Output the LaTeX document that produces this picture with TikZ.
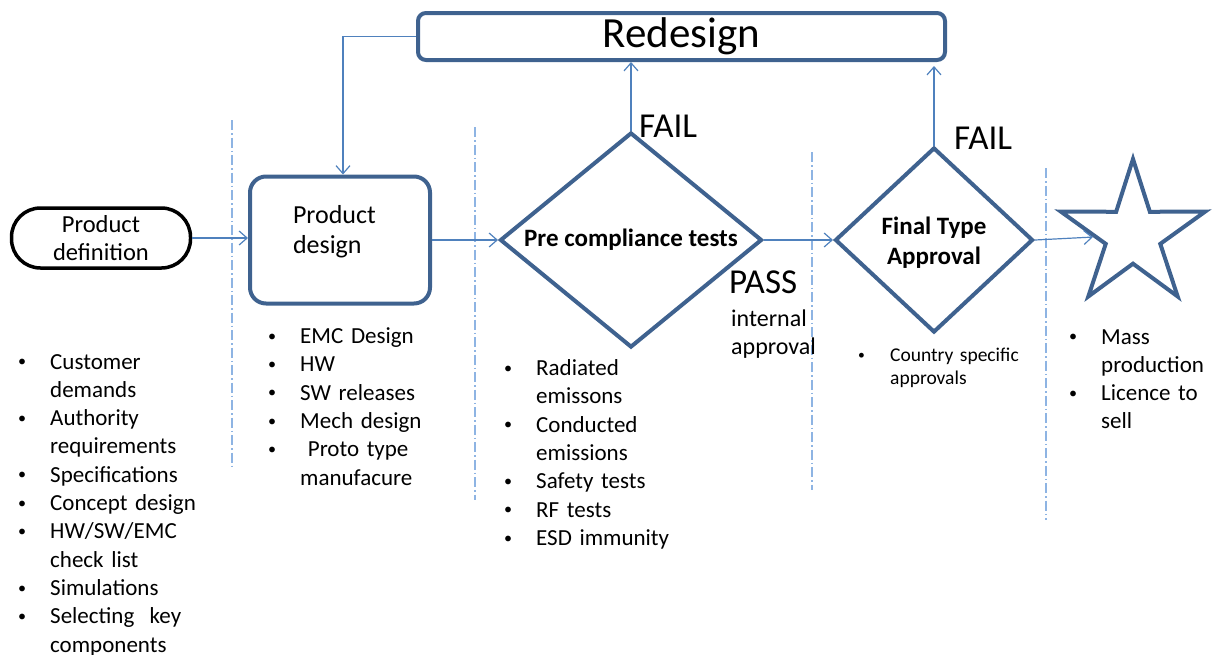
\documentclass[tikz,border=0pt]{standalone}
\usepackage{fontspec}
\setmainfont{Carlito}
\usetikzlibrary{shapes,arrows.meta,positioning}

\definecolor{boxblue}{HTML}{3F628F}
\definecolor{linkblue}{HTML}{4F81BD}
\definecolor{sepblue}{HTML}{8EB4E3}

% bullet item with hanging indent
\newcommand{\blt}[1]{\par\hangindent=32pt\hangafter=1\noindent\makebox[32pt][l]{\raisebox{0.1em}{\scalebox{0.7}{\textbullet}}}\strut#1}

\begin{document}
\begin{tikzpicture}[x=1pt, y=-1pt,
        >={Straight Barb[length=8pt,width=14pt]},
        term/.style={draw=black, line width=3.5pt, rounded corners=29pt, minimum width=179pt, minimum height=60pt, align=center, font=\fontsize{24.5}{28}\selectfont},
        box/.style={draw=boxblue, line width=4pt, rounded corners=16pt, minimum width=180pt, minimum height=127pt, align=left, font=\fontsize{26}{30}\selectfont},
        decide/.style={draw=boxblue, line width=4pt, diamond, inner sep=0pt, align=center, font=\bfseries\fontsize{25}{30}\selectfont},
        tag/.style={inner sep=0pt, anchor=west, font=\fontsize{35}{36}\selectfont},
        notes/.style={inner sep=0pt, anchor=north west, font=\fontsize{23}{28.3}\selectfont},
        link/.style={->, draw=linkblue, line width=1.2pt},
        sep/.style={draw=sepblue, line width=1.3pt, dash pattern=on 10pt off 3pt on 1.5pt off 3pt}
    ]
        \useasboundingbox (0,0) rectangle (1219,654);

        % main flow
        \node[term] (pdef) at (101,238) {Product\\definition};
        \node[box, text width=94pt, text height=18pt, text depth=52pt] (pdes) at (340,240) {Product\\design};
        \node[decide, minimum width=262pt, minimum height=215pt, aspect=1.22] (pct) at (631,240) {Pre compliance tests};
        \node[decide, minimum width=198pt, minimum height=185pt, aspect=1.07, text height=53pt] (fta) at (934,240) {Final Type\\Approval};
        \node[star, star points=5, star point ratio=2.65, minimum size=152pt, inner sep=0pt, draw=boxblue, line width=4pt] (goal) at (1133,235) {};
        \node[draw=boxblue, line width=4pt, rounded corners=8pt, minimum width=527pt, minimum height=47pt, font=\fontsize{43}{44}\selectfont] (redesign) at (681.5,36.5) {Redesign};

        % lane separators
        \foreach \x/\ya/\yb in {232/120/470, 475/127/500, 812/152/490, 1046/168/520}
            \draw[sep] (\x,\ya) -- (\x,\yb);

        % connectors
        \draw[link] (pdef.east) -- (pdes.west |- pdef.east);
        \draw[link] (pdes.east) -- (pct.west);
        \draw[link] (pct.east) -- (fta.west);
        \draw[link] (fta.east) -- (goal);
        \draw[link] (pct.north) -- (pct.north |- redesign.south);
        \draw[link] (fta.north) -- ([yshift=-4pt]fta.north |- redesign.south);
        \draw[link] (redesign.west) -| ([xshift=3pt]pdes.north);

        % decision labels
        \node[tag] (fail1) at (639,126) {FAIL};
        \node[tag] (fail2) at (954,138) {FAIL};
        \node[tag] (pass) at (729,282) {PASS};
        \node[notes, align=left, font=\fontsize{24}{28}\selectfont] (intapp) at (731,306.4) {\strut internal\\approval};

        % bullet lists
        \node[notes, text width=215pt] (defnotes) at (18,340.5) {\raggedright
            \blt{Customer\newline demands}
            \blt{Authority\newline requirements}
            \blt{Specifications}
            \blt{Concept design}
            \blt{HW/SW/EMC\newline check list}
            \blt{Simulations}
            \blt{Selecting\ \ key\newline components}\par};
        \node[notes, text width=200pt] (desnotes) at (268,315) {\raggedright
            \blt{EMC Design}
            \blt{HW}
            \blt{SW releases}
            \blt{Mech design}
            \blt{\ Proto type\newline manufacure}\par};
        \node[notes, text width=200pt] (pctnotes) at (504,347) {\raggedright
            \blt{Radiated\newline emissons}
            \blt{Conducted\newline emissions}
            \blt{Safety tests}
            \blt{RF tests}
            \blt{ESD immunity}\par};
        \node[notes, text width=180pt, font=\fontsize{19.5}{23}\selectfont] (ftanotes) at (858,338) {\raggedright
            \blt{Country specific\newline approvals}\par};
        \node[notes, text width=160pt] (goalnotes) at (1069,315.5) {\raggedright
            \blt{Mass\newline production}
            \blt{Licence to\newline sell}\par};
    \end{tikzpicture}
\end{document}
